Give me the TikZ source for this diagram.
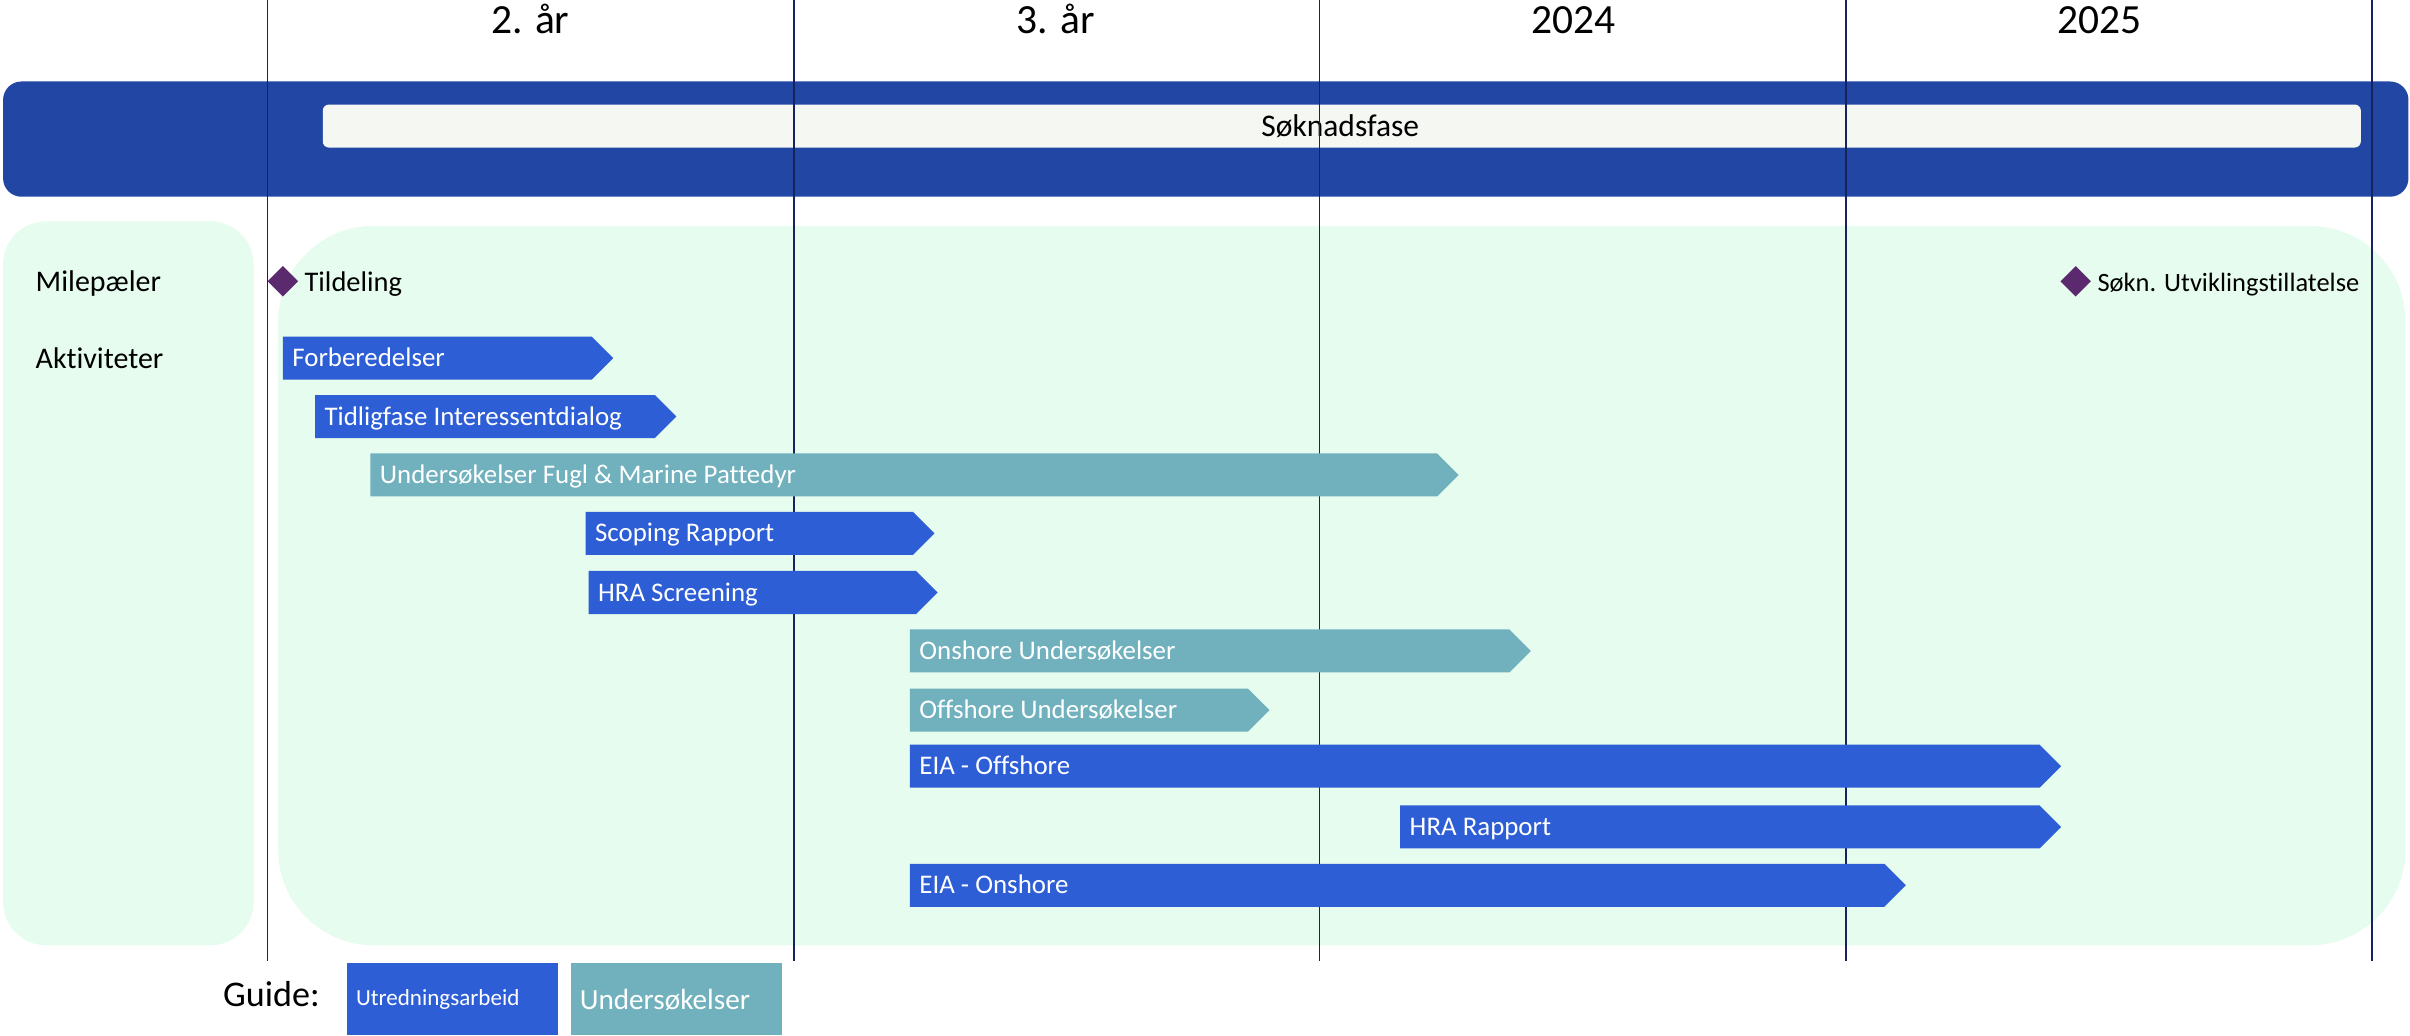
\documentclass[tikz,border=0pt]{standalone}
\usepackage{fontspec}
\setmainfont[Ligatures=NoCommon]{Carlito}
\usetikzlibrary{shapes.geometric}

\definecolor{phaseblue}{HTML}{2246A3}
\definecolor{phasebar}{HTML}{F5F7F3}
\definecolor{panelgreen}{HTML}{E6FCEE}
\definecolor{taskblue}{HTML}{2D5ED6}
\definecolor{surveyteal}{HTML}{70B1BD}
\definecolor{milepurple}{HTML}{5B2A6E}
\definecolor{linenavy}{HTML}{16235F}

\begin{document}
\begin{tikzpicture}[x=1pt,y=-1pt,every node/.style={inner sep=0pt},
      yearline/.style={draw=linenavy,line width=1.2pt},
      yearlabel/.style={anchor=base,font=\fontsize{27}{30}\selectfont},
      rowlabel/.style={anchor=base west,font=\fontsize{19.5}{22}\selectfont},
      milestone/.style={diamond,fill=milepurple,minimum size=20pt},
      miletext/.style={anchor=base west,font=\fontsize{17.2}{20}\selectfont},
      task/.style={fill=taskblue},
      survey/.style={fill=surveyteal},
      bartext/.style={anchor=base west,text=white,font=\fontsize{17.5}{20}\selectfont}]

      \useasboundingbox (0,0) rectangle (1568,674);

      % søknadsfase
      \fill[phaseblue,rounded corners=12pt] (2,53) rectangle (1567,128);
      \fill[phasebar,rounded corners=4pt] (210,68) rectangle (1536,96);
      \node[anchor=base,font=\fontsize{20.5}{24}\selectfont] (phase) at (872,88.5) {Søknadsfase};

      % panels
      \fill[panelgreen,rounded corners=28pt] (2,144) rectangle (165,615);
      \fill[panelgreen,rounded corners=62pt] (181,147) rectangle (1565,615);

      % years
      \foreach \x in {174,516.5,858.5,1201,1543.5}
        \draw[yearline] (\x,0) -- (\x,625);
      \node[yearlabel] (y2)   at (345,22)  {2. år};
      \node[yearlabel] (y3)   at (687,22)  {3. år};
      \node[yearlabel] (y24)  at (1024,22) {2024};
      \node[yearlabel] (y25)  at (1366,22) {2025};

      \node[rowlabel] (mile) at (23,189.5) {Milepæler};
      \node[rowlabel] (akt)  at (23,240)   {Aktiviteter};

      % milestones
      \node[milestone] (m1) at (184,183) {};
      \node[miletext,font=\fontsize{18.5}{21}\selectfont]  (m1t) at (198,189.5) {Tildeling};
      \node[milestone] (m2) at (1350.5,183) {};
      \node[miletext]  (m2t) at (1364.5,189.5) {Søkn. Utviklingstillatelse};

      % activities
      \foreach \nm/\xa/\xb/\yc/\st/\txt in {
          forb/184/385/233/task/Forberedelser,
          tidl/205/426/271/task/Tidligfase Interessentdialog,
          fugl/241/935/309/survey/{Undersøkelser Fugl \& Marine Pattedyr},
          scop/381/594/347/task/Scoping Rapport,
          hras/383/596/385.5/task/HRA Screening,
          onsu/592/982/423.5/survey/Onshore Undersøkelser,
          offu/592/812/462/survey/Offshore Undersøkelser,
          eiaoff/592/1327/498.5/task/EIA - Offshore,
          hrar/911/1327/538/task/HRA Rapport,
          eiaon/592/1226/576/task/EIA - Onshore}
      {
        \fill[\st] (\xa,\yc-14) -- (\xb,\yc-14) -- (\xb+14,\yc) -- (\xb,\yc+14) -- (\xa,\yc+14) -- cycle;
        \node[bartext] (\nm) at (\xa+6,\yc+5.6) {\txt};
      }

      % guide
      \node[anchor=base west,font=\fontsize{23.5}{26}\selectfont] (guide) at (145,655) {Guide:};
      \fill[taskblue] (226,626.5) rectangle (363,673.5);
      \node[anchor=base west,text=white,font=\fontsize{15}{18}\selectfont] (gutr) at (231.5,654.5) {Utredningsarbeid};
      \fill[surveyteal] (371.5,626.5) rectangle (508.5,673.5);
      \node[anchor=base west,text=white,font=\fontsize{19}{22}\selectfont] (gund) at (377,656.5) {Undersøkelser};
    \end{tikzpicture}
\end{document}
